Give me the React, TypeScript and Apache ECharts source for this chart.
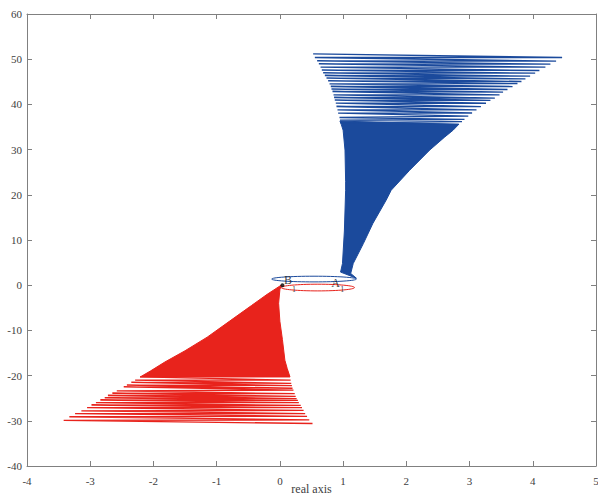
import React, { useEffect, useRef } from "react";
import * as echarts from "echarts";

const X_MIN = -4, X_MAX = 5, X_STEP = 1;
const Y_MIN = -40, Y_MAX = 60, Y_STEP = 10;
const xAxisTitle = "real axis";

// Blue sparse lines (upper part): left end -> right end
const blueLeftX = [0.526, 0.553, 0.589, 0.616, 0.643, 0.663, 0.684, 0.711, 0.737, 0.763, 0.785, 0.805, 0.816, 0.832, 0.848, 0.857, 0.868, 0.884, 0.895, 0.911, 0.921, 0.943, 0.95, 0.96];
const blueLeftY = [51.17, 50.38, 49.62, 48.96, 48.23, 47.57, 46.97, 46.39, 45.8, 45.2, 44.54, 43.96, 43.36, 42.85, 42.1, 41.53, 40.93, 40.27, 39.54, 38.78, 38.05, 37.1, 36.5, 35.9];
const blueRightX = [4.464, 4.369, 4.279, 4.2, 4.105, 4.038, 3.958, 3.884, 3.821, 3.758, 3.68, 3.6, 3.53, 3.474, 3.4, 3.33, 3.26, 3.18, 3.11, 3.04, 2.98, 2.92, 2.88, 2.83];
const blueRightY = [50.38, 49.56, 48.89, 48.23, 47.5, 46.9, 46.24, 45.64, 45.07, 44.62, 43.95, 43.3, 42.7, 42.1, 41.4, 40.9, 40.25, 39.5, 38.8, 38.1, 37.4, 36.7, 36.2, 35.6];

// Blue solid region outline
const blueFillX = [0.95, 0.97, 1.0, 1.03, 1.04, 1.04, 1.02, 0.99, 0.96, 1.21, 1.12, 1.16, 1.32, 1.47, 1.68, 1.76, 2.05, 2.37, 2.6, 2.74, 2.83];
const blueFillY = [36.3, 35.6, 34.3, 29.9, 23.0, 21.0, 12.0, 4.8, 2.9, 1.55, 2.6, 4.8, 9.2, 13.65, 18.8, 21.0, 25.4, 29.9, 32.7, 34.3, 35.6];

// Red sparse lines (lower part)
const redLeftX = [-2.21, -2.29, -2.35, -2.42, -2.47, -2.58, -2.65, -2.72, -2.77, -2.84, -2.91, -2.98, -3.05, -3.14, -3.24, -3.33, -3.42];
const redLeftY = [-20.3, -21.0, -21.5, -22.1, -22.5, -23.4, -23.9, -24.4, -24.9, -25.4, -26.0, -26.5, -27.1, -27.8, -28.4, -29.1, -29.9];
const redRightX = [0.17, 0.18, 0.19, 0.2, 0.215, 0.235, 0.25, 0.265, 0.285, 0.3, 0.33, 0.35, 0.375, 0.4, 0.43, 0.465, 0.516];
const redRightY = [-21.0, -21.7, -22.2, -22.8, -23.2, -24.0, -24.6, -25.1, -25.5, -26.0, -26.6, -27.1, -27.7, -28.4, -29.0, -29.8, -30.6];

// Red solid region outline
const redFillX = [0.02, -0.2, -0.45, -0.8, -1.15, -1.5, -1.82, -2.05, -2.21, 0.16, 0.115, 0.079, 0.04, 0.0, -0.02, 0.0];
const redFillY = [0.0, -2.0, -4.5, -8.0, -11.5, -14.5, -17.0, -19.0, -20.3, -20.3, -18.4, -16.6, -12.0, -8.0, -4.0, -1.0];

// Ellipses: [cx, cy, rx, ry]
const blueEllipse = [0.54, 1.36, 0.67, 0.63];
const redEllipse = [0.6, -0.52, 0.58, 0.74];

// Marker point and labels
const markerPoint = [0.04, 0.0];
const labelTexts = ["B", "1", "A", "1"];
const labelX = [0.13, 0.225, 0.88, 0.985];
const labelY = [1.1, -0.85, 0.55, -1.0];
const labelSizes = [12, 8, 12, 8];

const BLUE = "#1b4a9c";
const RED = "#e8231c";
const FONT = "Liberation Serif, Times New Roman, serif";

function zigzag(lx: number[], ly: number[], rx: number[], ry: number[]) {
  const out: number[][] = [];
  for (let i = 0; i < lx.length; i++) {
    out.push([lx[i], ly[i]]);
    out.push([rx[i], ry[i]]);
  }
  return out;
}

function polygonSeries(xs: number[], ys: number[], color: string) {
  return {
    type: "custom",
    xAxisIndex: 0,
    yAxisIndex: 0,
    data: [[xs[0], ys[0]]],
    encode: { x: 0, y: 1 },
    renderItem: (_p: any, api: any) => {
      const pts = xs.map((x, i) => api.coord([x, ys[i]]));
      return {
        type: "polygon",
        shape: { points: pts, smooth: 0 },
        style: { fill: color, stroke: color, lineWidth: 1 },
      };
    },
    silent: true,
    z: 2,
  };
}

function ellipseSeries(e: number[], color: string) {
  return {
    type: "custom",
    xAxisIndex: 0,
    yAxisIndex: 0,
    data: [e],
    encode: { x: 0, y: 1 },
    renderItem: (_p: any, api: any) => {
      const c = api.coord([api.value(0), api.value(1)]);
      const s = api.size([api.value(2), api.value(3)]);
      return {
        type: "ellipse",
        shape: { cx: c[0], cy: c[1], rx: s[0], ry: s[1] },
        style: { fill: "none", stroke: color, lineWidth: 1 },
      };
    },
    silent: true,
    z: 4,
  };
}

export default function App() {
  const ref = useRef<HTMLDivElement>(null);
  useEffect(() => {
    document.body.style.margin = "0";
    const chart = echarts.init(ref.current!, null, { renderer: "svg" });
    const axisLineStyle = { color: "#808080", width: 1 };
    const labelStyle = { color: "#404040", fontFamily: FONT, fontSize: 11 };
    chart.setOption({
      animation: false,
      backgroundColor: "#ffffff",
      grid: { left: 27, right: 2, top: 14, bottom: 29, containLabel: false, outerBoundsMode: "none" },
      xAxis: [
        {
          type: "value",
          min: X_MIN,
          max: X_MAX,
          interval: X_STEP,
          position: "bottom",
          axisLine: { show: true, onZero: false, lineStyle: axisLineStyle },
          axisTick: { show: true, inside: true, length: 5, lineStyle: axisLineStyle },
          axisLabel: { ...labelStyle, margin: 9 },
          splitLine: { show: false },
          name: xAxisTitle,
          nameLocation: "middle",
          nameGap: 17,
          nameMoveOverlap: false,
          nameTextStyle: { color: "#404040", fontFamily: FONT, fontSize: 12, verticalAlign: "top", lineHeight: 12 },
        },
        {
          type: "value",
          min: X_MIN,
          max: X_MAX,
          interval: X_STEP,
          position: "top",
          axisLine: { show: true, onZero: false, lineStyle: axisLineStyle },
          axisTick: { show: true, inside: true, length: 5, lineStyle: axisLineStyle },
          axisLabel: { show: false },
          splitLine: { show: false },
        },
      ],
      yAxis: [
        {
          type: "value",
          min: Y_MIN,
          max: Y_MAX,
          interval: Y_STEP,
          position: "left",
          axisLine: { show: true, onZero: false, lineStyle: axisLineStyle },
          axisTick: { show: true, inside: true, length: 5, lineStyle: axisLineStyle },
          axisLabel: { ...labelStyle, margin: 5 },
          splitLine: { show: false },
        },
        {
          type: "value",
          min: Y_MIN,
          max: Y_MAX,
          interval: Y_STEP,
          position: "right",
          axisLine: { show: true, onZero: false, lineStyle: axisLineStyle },
          axisTick: { show: true, inside: true, length: 5, lineStyle: axisLineStyle },
          axisLabel: { show: false },
          splitLine: { show: false },
        },
      ],
      series: [
        polygonSeries(blueFillX, blueFillY, BLUE),
        {
          type: "line",
          data: zigzag(blueLeftX, blueLeftY, blueRightX, blueRightY),
          showSymbol: false,
          symbol: "none",
          lineStyle: { color: BLUE, width: 1.3 },
          silent: true,
          z: 3,
        },
        polygonSeries(redFillX, redFillY, RED),
        {
          type: "line",
          data: zigzag(redLeftX, redLeftY, redRightX, redRightY),
          showSymbol: false,
          symbol: "none",
          lineStyle: { color: RED, width: 1.3 },
          silent: true,
          z: 3,
        },
        ellipseSeries(redEllipse, RED),
        ellipseSeries(blueEllipse, BLUE),
        {
          type: "scatter",
          data: [markerPoint],
          symbol: "circle",
          symbolSize: 4,
          itemStyle: { color: "#000000" },
          silent: true,
          z: 5,
        },
        {
          type: "scatter",
          data: labelTexts.map((t, i) => ({
            value: [labelX[i], labelY[i]],
            label: {
              show: true,
              position: "inside",
              formatter: t,
              color: "#111111",
              fontFamily: FONT,
              fontSize: labelSizes[i],
            },
          })),
          symbolSize: 1,
          itemStyle: { color: "rgba(0,0,0,0)" },
          silent: true,
          z: 6,
        },
      ],
    });
    return () => chart.dispose();
  }, []);
  return (
    <div
      ref={ref}
      style={{ position: "fixed", left: 0, top: 0, width: 598, height: 495, background: "#fff" }}
    />
  );
}
